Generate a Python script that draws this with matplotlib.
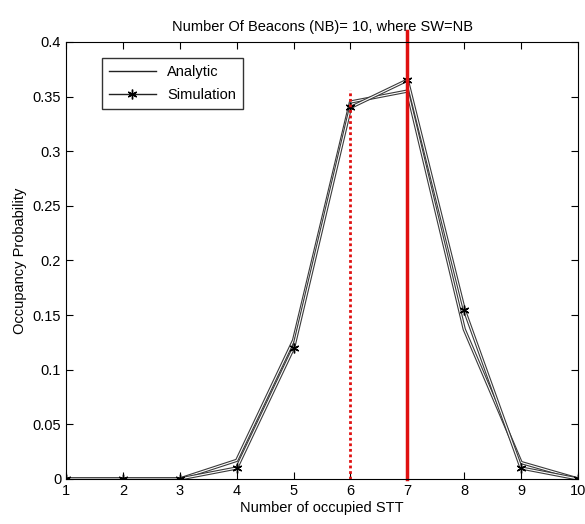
import matplotlib
matplotlib.use("Agg")
import matplotlib.pyplot as plt
import matplotlib.patheffects as pe
from matplotlib.lines import Line2D

x = [1, 2, 3, 4, 5, 6, 7, 8, 9, 10]
analytic = [0, 0, 0, 0.017, 0.127, 0.345, 0.355, 0.137, 0.015, 0]
simulation = [0, 0, 0, 0.010, 0.120, 0.340, 0.365, 0.155, 0.010, 0]
dotted_x, dotted_top = 6, 0.356
solid_x, solid_top = 7, 0.41

plt.rcParams['font.family'] = ['Liberation Sans', 'DejaVu Sans']
fig = plt.figure(figsize=(5.85, 5.24), dpi=100)
ax = fig.add_axes([0.113, 0.086, 0.875, 0.834])

star = (6, 2, 0)
hollow = [pe.Stroke(linewidth=2.4, foreground='#3a3a3a'), pe.Stroke(linewidth=0.8, foreground='white')]
ax.plot(x, analytic, color='#3a3a3a', lw=2.4, path_effects=hollow)
ax.plot(x, simulation, color='#3a3a3a', lw=2.4, path_effects=hollow)
ax.plot(x, simulation, linestyle='none', marker=star, markersize=7, markeredgewidth=1.0,
        markerfacecolor='black', markeredgecolor='black')
ax.plot([dotted_x, dotted_x], [0, dotted_top], color='#e01010', lw=2, linestyle=(0, (1, 1)))
ax.plot([solid_x, solid_x], [0, solid_top], color='#e01010', lw=2.5, clip_on=False)

ax.set_xlim(1, 10)
ax.set_ylim(0, 0.4)
ax.set_xticks(x)
ax.set_yticks([0, 0.05, 0.1, 0.15, 0.2, 0.25, 0.3, 0.35, 0.4])
ax.set_yticklabels(['0', '0.05', '0.1', '0.15', '0.2', '0.25', '0.3', '0.35', '0.4'])
ax.tick_params(direction='in', top=True, right=True, labelsize=10.5, length=5)
ax.set_xlabel('Number of occupied STT', fontsize=10.5, labelpad=2)
ax.set_ylabel('Occupancy Probability', fontsize=10.5)
ax.set_title('Number Of Beacons (NB)= 10, where SW=NB', fontsize=10.5, pad=8)

handles = [Line2D([], [], color='#222222', lw=1),
           Line2D([], [], color='#222222', lw=1, marker=star, markersize=7, markeredgewidth=1.0,
                  markerfacecolor='black', markeredgecolor='black')]
leg = ax.legend(handles, ['Analytic', 'Simulation'], loc='upper left', bbox_to_anchor=(0.055, 0.98),
                fancybox=False, edgecolor='black', fontsize=10.5, handlelength=3.2,
                borderpad=0.5, labelspacing=0.6)
leg.get_frame().set_linewidth(1.0)
fig.savefig('out.png', dpi=100)
